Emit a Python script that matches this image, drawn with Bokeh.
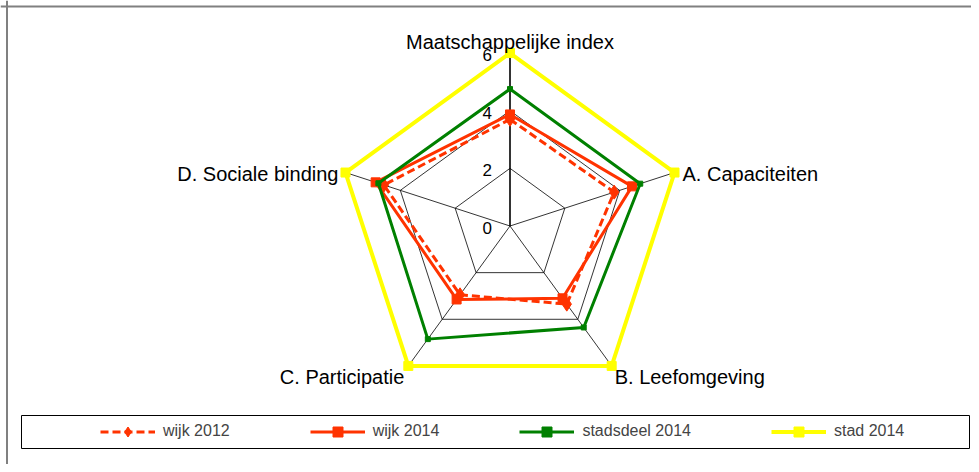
import math
from bokeh.plotting import figure
from bokeh.models import Range1d, Span, BoxAnnotation, Legend, LegendItem
from bokeh.core.properties import value
from bokeh.embed import file_html
from bokeh.resources import INLINE

# ---- data ----
categories = ["Maatschappelijke index", "A. Capaciteiten", "B. Leefomgeving",
              "C. Participatie", "D. Sociale binding"]
wijk_2012 = [3.7, 3.8, 3.35, 2.95, 4.6]
wijk_2014 = [3.87, 4.45, 3.1, 3.15, 4.9]
stadsdeel_2014 = [4.75, 4.75, 4.35, 4.85, 4.8]
stad_2014 = [6, 6, 6, 6, 6]
tick_values = [0, 2, 4, 6]
tick_labels = ["0", "2", "4", "6"]
r_max = 6

# ---- geometry ----
W, H = 971, 464
k = 28.83                       # px per unit
cx, cy = 509.5, 225.5           # centre in figure pixels


def px2x(px):
    return (px - cx) / k


def py2y(py):
    return (cy - py) / k


n = len(categories)
angles = [math.pi / 2 - 2 * math.pi * i / n for i in range(n)]


def to_xy(vals):
    xs = [v * math.cos(a) for v, a in zip(vals, angles)]
    ys = [v * math.sin(a) for v, a in zip(vals, angles)]
    return xs, ys


def closed(xs, ys):
    return xs + xs[:1], ys + ys[:1]


p = figure(width=W, height=H, output_backend="svg", toolbar_location=None,
           x_range=Range1d(-cx / k, (W - cx) / k),
           y_range=Range1d(-(H - cy) / k, cy / k),
           x_axis_location=None, y_axis_location=None, min_border=0)
p.grid.visible = False
p.outline_line_color = None
p.background_fill_color = "white"
p.border_fill_color = "white"

# outer chart frame (top and left edges visible)
p.add_layout(Span(location=py2y(6), dimension="width", line_color="#808080", line_width=2))
p.add_layout(Span(location=px2x(6.5), dimension="height", line_color="#808080", line_width=2))

# grid pentagons
gx, gy = [], []
for r in tick_values[1:]:
    xs, ys = closed(*to_xy([r] * n))
    gx.append(xs)
    gy.append(ys)
p.multi_line(gx, gy, line_color="black", line_width=0.8)

# spokes
sx, sy = [], []
for a in angles[1:]:
    sx.append([0, r_max * math.cos(a)])
    sy.append([0, r_max * math.sin(a)])
p.multi_line(sx, sy, line_color="black", line_width=0.8)
p.line([0, 0], [0, r_max], line_color="black", line_width=1.6)

red = "#FF3300"
green = "#008000"
yellow = "#FFFF00"

# series
x1, y1 = closed(*to_xy(wijk_2012))
l1 = p.line(x1, y1, line_color=red, line_width=3, line_dash="8 4")
s1 = p.scatter(x1[:-1], y1[:-1], marker="diamond", size=14,
               fill_color=red, line_color=red)

x2, y2 = closed(*to_xy(wijk_2014))
l2 = p.line(x2, y2, line_color=red, line_width=3)
s2 = p.scatter(x2[:-1], y2[:-1], marker="square", size=9, fill_color=red, line_color=red)

x3, y3 = closed(*to_xy(stadsdeel_2014))
l3 = p.line(x3, y3, line_color=green, line_width=3)
s3 = p.scatter(x3[:-1], y3[:-1], marker="square", size=5, fill_color=green, line_color=green)

x4, y4 = closed(*to_xy(stad_2014))
l4 = p.line(x4, y4, line_color=yellow, line_width=4)
s4 = p.scatter(x4[:-1], y4[:-1], marker="square", size=9, fill_color=yellow, line_color=yellow)

# tick labels on top axis
p.text(x=[0] * len(tick_values), y=tick_values, text=tick_labels,
       text_align="right", text_baseline="middle", x_offset=-18, y_offset=2,
       text_font=value("Liberation Sans"), text_font_size="17px", text_color="black")

# category labels
vx, vy = to_xy([r_max] * n)
label_cfg = [
    ("center", "alphabetic", 0, -11),
    ("left", "middle", 8, 1),
    ("left", "middle", 3, 11),
    ("right", "middle", -4, 11),
    ("right", "middle", -7, 1),
]
for i, cat in enumerate(categories):
    al, bl, xo, yo = label_cfg[i]
    p.text(x=[vx[i]], y=[vy[i]], text=[cat], text_align=al, text_baseline=bl,
           x_offset=xo, y_offset=yo, text_font=value("Liberation Sans"),
           text_font_size="20px", text_color="black")

# legend box
p.add_layout(BoxAnnotation(left=px2x(21), right=px2x(W - 2), top=py2y(415), bottom=py2y(448),
                           fill_alpha=0, line_color="black", line_alpha=1, line_width=1))

legend = Legend(items=[
    LegendItem(label="wijk 2012", renderers=[l1, s1]),
    LegendItem(label="wijk 2014", renderers=[l2, s2]),
    LegendItem(label="stadsdeel 2014", renderers=[l3, s3]),
    LegendItem(label="stad 2014", renderers=[l4, s4]),
], orientation="horizontal", location=(100, H - 443.5), glyph_width=55, glyph_height=25,
    label_height=25, label_standoff=8, spacing=80, padding=0, margin=0,
    border_line_alpha=0, background_fill_alpha=0,
    label_text_font="Liberation Sans", label_text_font_size="16px")
p.add_layout(legend)

open("out.html", "w").write(file_html(p, INLINE))
